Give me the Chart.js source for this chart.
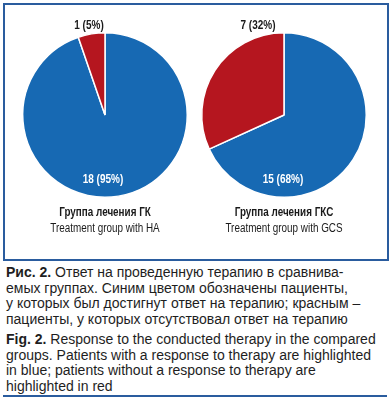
<!DOCTYPE html>
<html>
<head>
<meta charset="utf-8">
<script src="https://cdn.jsdelivr.net/npm/chart.js@4"></script>
<style>
  html, body { margin: 0; padding: 0; background: #fff; }
  body { width: 390px; height: 400px; position: relative; overflow: hidden; font-family: "Liberation Sans", Arial, sans-serif; }
  .frame { position: absolute; left: 3px; top: 3px; width: 386px; height: 258px; box-sizing: border-box; border: 2px solid #2a5c9e; }
  canvas { position: absolute; top: 12px; }
  .glabel { position: absolute; top: 204px; width: 180px; text-align: center; font-size: 12.5px; line-height: 16px; color: #1a1a1a; transform: scaleX(0.79); transform-origin: 50% 0; }
  .glabel b { font-weight: bold; }
  .caption { position: absolute; left: 6px; top: 265px; width: 384px; font-size: 14px; line-height: 15.5px; color: #1e1e1e; }
  .caption p { margin: 0 0 5px 0; }
  .rule { position: absolute; left: 3px; top: 395px; width: 384px; height: 2px; background: #2a5c9e; }
</style>
</head>
<body>
<div class="frame"></div>
<canvas id="pie-0" width="186" height="196" style="left:12px"></canvas>
<canvas id="pie-1" width="186" height="196" style="left:191px"></canvas>
<div class="glabel" id="glabel-0" style="left:15px"></div>
<div class="glabel" id="glabel-1" style="left:194px"></div>
<div class="caption">
  <p><b>Рис. 2.</b> Ответ на проведенную терапию в сравнива-<br>емых группах. Синим цветом обозначены пациенты,<br>у которых был достигнут ответ на терапию; красным –<br>пациенты, у которых отсутствовал ответ на терапию</p>
  <p><b>Fig. 2.</b> Response to the conducted therapy in the compared<br>groups. Patients with a response to therapy are highlighted<br>in blue; patients without a response to therapy are<br>highlighted in red</p>
</div>
<div class="rule"></div>
<script>
var groupNames = ['Группа лечения ГК', 'Группа лечения ГКС'];
var groupNamesEn = ['Treatment group with HA', 'Treatment group with GCS'];
var responded = [18, 15];
var respondedPct = [95, 68];
var noResponse = [1, 7];
var noResponsePct = [5, 32];

var BLUE = '#1769b3';
var RED = '#b5161f';

// labels: count (pct%) - blue one inside near the bottom, red one above the pie
var sliceLabels = {
  id: 'sliceLabels',
  afterDatasetsDraw: function (chart, args, opts) {
    var ctx = chart.ctx;
    var arcs = chart.getDatasetMeta(0).data;
    var ds = chart.data.datasets[0];
    for (var i = 0; i < arcs.length; ++i) {
      var a = arcs[i];
      var text = ds.data[i] + ' (' + ds.pct[i] + '%)';
      var x, y;
      if (i === 0) {
        x = a.x + opts.innerDx;
        y = a.y + a.outerRadius * 0.78;
      } else {
        x = a.x + opts.outerDx;
        y = a.y - a.outerRadius - 7;
      }
      ctx.save();
      ctx.translate(x, y);
      ctx.scale(0.8, 1); // condensed look
      ctx.font = 'bold 12.5px "Liberation Sans", sans-serif';
      ctx.textAlign = 'center';
      ctx.textBaseline = 'middle';
      ctx.fillStyle = i === 0 ? '#ffffff' : '#1a1a1a';
      ctx.fillText(text, 0, 0);
      ctx.restore();
    }
  }
};

var labelShift = [[-2, -16], [-1, -26]];

for (var g = 0; g < groupNames.length; ++g) {
  document.getElementById('glabel-' + g).innerHTML = '<b>' + groupNames[g] + '</b><br>' + groupNamesEn[g];
  var ctx = document.getElementById('pie-' + g).getContext('2d');
  new Chart(ctx, {
    type: 'pie',
    data: {
      labels: ['response', 'no response'],
      datasets: [{
        data: [responded[g], noResponse[g]],
        pct: [respondedPct[g], noResponsePct[g]],
        backgroundColor: [BLUE, RED],
        borderColor: '#ffffff',
        borderWidth: 1.5,
      }],
    },
    options: {
      responsive: false,
      animation: false,
      layout: {
        padding: { top: 20, left: 10, right: 10, bottom: 10 },
      },
      plugins: {
        legend: { display: false },
        tooltip: { enabled: false },
        sliceLabels: { innerDx: labelShift[g][0], outerDx: labelShift[g][1] },
      },
    },
    plugins: [sliceLabels],
  });
}
</script>
</body>
</html>
